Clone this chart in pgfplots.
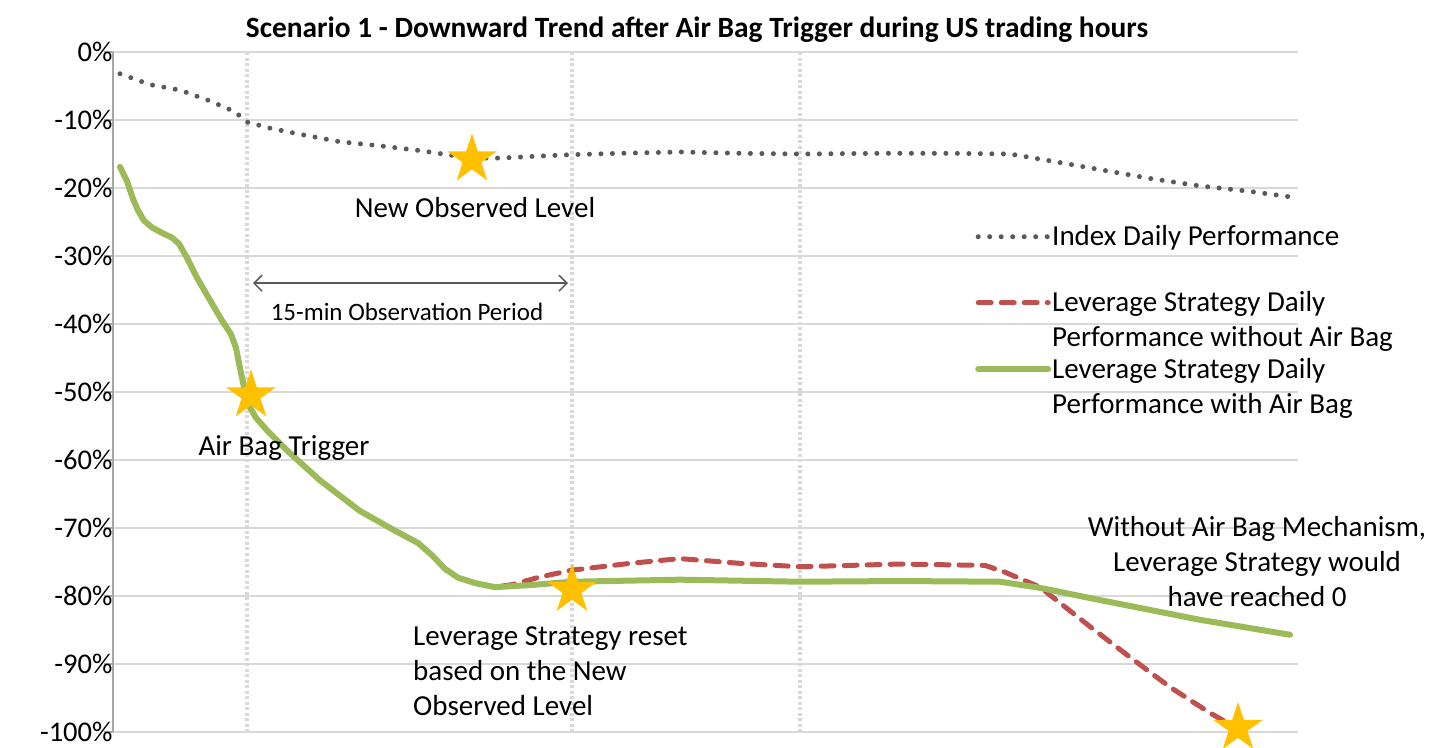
\documentclass[border=0pt]{standalone}
\usepackage{pgfplots}
\pgfplotsset{compat=1.18}
\usetikzlibrary{arrows.meta}
\usepackage{fontspec}
\setmainfont{Carlito}
\definecolor{cgreen}{HTML}{9BBB59}
\definecolor{cred}{HTML}{C0504D}
\definecolor{cidx}{HTML}{595959}
\definecolor{cstar}{HTML}{FFC000}
\definecolor{cgrid}{HTML}{D9D9D9}
\definecolor{caxis}{HTML}{A6A6A6}
\pgfdeclareplotmark{fstar}{%
 \pgfpathmoveto{\pgfpointpolar{90}{\pgfplotmarksize}}%
 \pgfpathlineto{\pgfpointpolar{126}{0.382*\pgfplotmarksize}}%
 \pgfpathlineto{\pgfpointpolar{162}{\pgfplotmarksize}}%
 \pgfpathlineto{\pgfpointpolar{198}{0.382*\pgfplotmarksize}}%
 \pgfpathlineto{\pgfpointpolar{234}{\pgfplotmarksize}}%
 \pgfpathlineto{\pgfpointpolar{270}{0.382*\pgfplotmarksize}}%
 \pgfpathlineto{\pgfpointpolar{306}{\pgfplotmarksize}}%
 \pgfpathlineto{\pgfpointpolar{342}{0.382*\pgfplotmarksize}}%
 \pgfpathlineto{\pgfpointpolar{18}{\pgfplotmarksize}}%
 \pgfpathlineto{\pgfpointpolar{54}{0.382*\pgfplotmarksize}}%
 \pgfpathclose
 \pgfusepathqfill
}
\newcommand{\bigf}{\fontsize{29}{35}\selectfont}
\begin{document}
\begin{tikzpicture}
\path[use as bounding box] (-113pt,-15pt) rectangle (1318pt,732pt);
\begin{axis}[
  scale only axis, width=1185pt, height=680pt,
  at={(0pt,0pt)}, anchor=south west,
  xmin=113, xmax=1298, ymin=-100, ymax=0,
  clip=false,
  axis y line*=left, axis x line*=bottom,
  x axis line style={draw=none},
  y axis line style={caxis, line width=1.5pt},
  xtick=\empty,
  extra x ticks={247,572,800},
  extra x tick labels={},
  extra x tick style={grid=major, major tick length=0pt,
     major grid style={cgrid, line width=4pt, dash pattern=on 3pt off 2.5pt}},
  ytick={-100,-90,...,0},
  ytick pos=left,
  tick align=outside,
  major tick length=9pt,
  ytick style={caxis, line width=1.3pt},
  ymajorgrids,
  grid style={cgrid, line width=1.3pt},
  yticklabel={\pgfmathprintnumber{\tick}\%},
  /pgf/number format/assume math mode=true,
  yticklabel style={font=\fontsize{28.5}{34}\selectfont, anchor=east, xshift=12pt},
  legend image code/.code={\draw[#1] (0pt,9pt) -- (70pt,9pt);},
  legend style={draw=none, fill=none, at={(axis cs:975,-25.5)}, anchor=north west,
    inner sep=0pt, font=\bigf, row sep=44.5pt, column sep=0pt,
    nodes={inner sep=0pt, anchor=base west}},
]
\addplot[cidx, line width=5pt, line cap=round, dash pattern=on 0pt off 11.5pt] coordinates {
(120,-3.2) (150,-4.8) (180,-5.6) (210,-7.2) (235,-8.8) (247,-10.3) (270,-11.2)
(300,-12.1) (340,-13.2) (380,-13.8) (420,-14.5) (470,-15.6) (500,-15.6) (540,-15.3)
(572,-15.1) (620,-14.9) (680,-14.7) (740,-14.9) (800,-15.0) (880,-14.9) (950,-14.9)
(1010,-15.0) (1050,-16.0) (1100,-17.3) (1150,-18.6) (1200,-19.7) (1250,-20.5) (1290,-21.3)};
\addlegendentry{\hspace{1pt}Index Daily Performance}
\addplot[cred, line width=5pt, line cap=round, line join=round, dash pattern=on 13pt off 10pt] coordinates {
(120,-16.9) (127,-19.0) (133,-21.6) (138,-23.3) (144,-24.8) (152,-25.8) (162,-26.6)
(172,-27.3) (179,-28.2) (186,-30.0) (197,-33.2) (210,-36.5) (222,-39.5) (231,-41.5)
(236,-43.5) (240,-46.5) (244,-49.3) (249,-52.0) (256,-53.8) (268,-55.8) (287,-58.6)
(320,-63.0) (360,-67.5) (395,-70.4) (418,-72.2) (432,-74.0) (445,-76.0) (458,-77.3)
(475,-78.1) (495,-78.7) (513,-78.3) (540,-77.2) (572,-76.2) (630,-75.2)
(680,-74.5) (740,-75.2) (800,-75.7) (900,-75.3) (985,-75.5) (1005,-76.5) (1040,-78.7)
(1090,-84.5) (1130,-89.0) (1170,-93.4) (1210,-97.2) (1228,-98.7)};
\addlegendentry{\hspace{1pt}\parbox[t]{400pt}{Leverage Strategy Daily\\Performance without Air Bag}}
\addplot[cgreen, line width=6pt, line cap=round, line join=round] coordinates {
(120,-16.9) (127,-19.0) (133,-21.6) (138,-23.3) (144,-24.8) (152,-25.8) (162,-26.6)
(172,-27.3) (179,-28.2) (186,-30.0) (197,-33.2) (210,-36.5) (222,-39.5) (231,-41.5)
(236,-43.5) (240,-46.5) (244,-49.3) (249,-52.0) (256,-53.8) (268,-55.8) (287,-58.6)
(320,-63.0) (360,-67.5) (395,-70.4) (418,-72.2) (432,-74.0) (445,-76.0) (458,-77.3)
(475,-78.1) (495,-78.7) (530,-78.4) (572,-77.9) (680,-77.6) (800,-77.9)
(900,-77.8) (1000,-77.9) (1040,-78.8) (1100,-80.6) (1200,-83.5) (1290,-85.7)};
\addlegendentry{\hspace{1pt}\parbox[t]{400pt}{Leverage Strategy Daily\\Performance with Air Bag}}
\addplot[cstar, only marks, mark=fstar, mark size=26pt, forget plot] coordinates {
(472,-15.8) (251,-50.5) (572,-79.1) (1238,-99.4)};
\node[font=\fontsize{29.4}{34}\selectfont\bfseries] at (axis cs:697,3.3) {Scenario 1 - Downward Trend after Air Bag Trigger during US trading hours};
\node[font=\bigf] at (axis cs:475,-22.9) {New Observed Level};
\node[font=\bigf] at (axis cs:284,-58.2) {Air Bag Trigger};
\draw[cidx, line width=1.5pt, {Straight Barb[length=8pt,width=16pt]}-{Straight Barb[length=8pt,width=16pt]}] (axis cs:253,-34) -- (axis cs:568,-34);
\node[font=\fontsize{25}{30}\selectfont] at (axis cs:407,-38.2) {15-min Observation Period};
\node[font=\bigf, align=left, anchor=west, inner sep=0pt] at (axis cs:413,-91.0) {Leverage Strategy reset\\based on the New\\Observed Level};
\node[font=\bigf, align=center] at (axis cs:1257,-75.0) {Without Air Bag Mechanism,\\Leverage Strategy would\\have reached 0};
\end{axis}
\end{tikzpicture}
\end{document}
